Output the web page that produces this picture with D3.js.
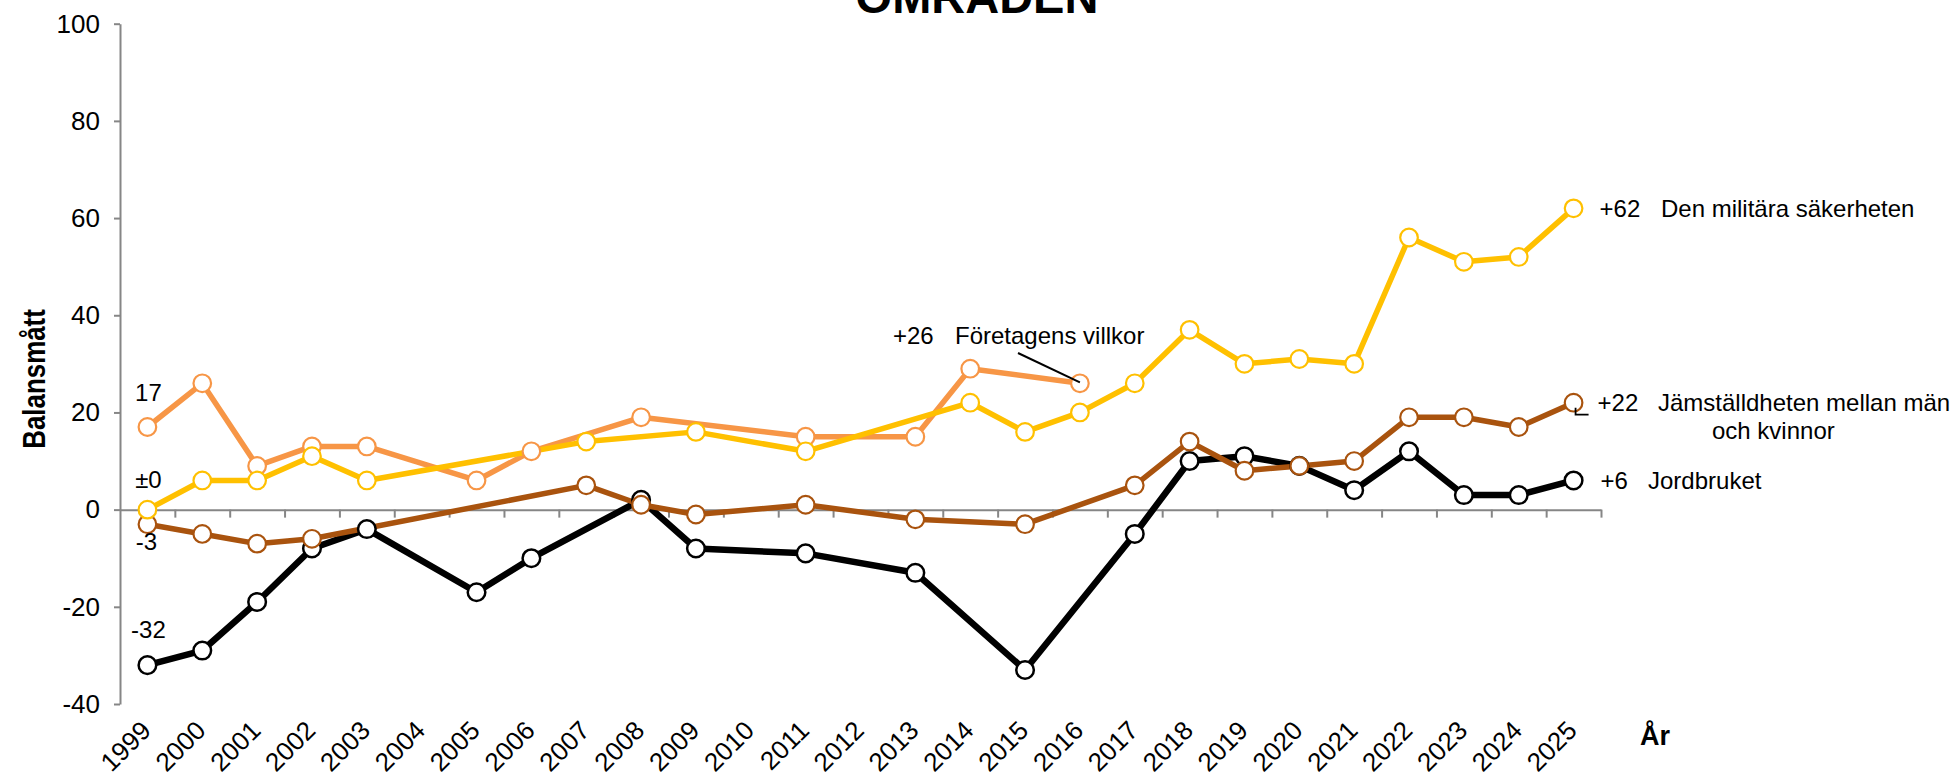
<!DOCTYPE html>
<html>
<head>
<meta charset="utf-8">
<script src="https://cdn.jsdelivr.net/npm/d3@7"></script>
<style>
  body { margin: 0; background: #fff; }
  svg text { font-family: "Liberation Sans", Arial, sans-serif; fill: #000; }
</style>
</head>
<body>
<svg id="chart"></svg>
<script>
// Years on the x axis
const years = ["1999","2000","2001","2002","2003","2004","2005","2006","2007","2008","2009","2010","2011","2012",
  "2013","2014","2015","2016","2017","2018","2019","2020","2021","2022","2023","2024","2025"];

// Balansmått per year, null = not asked that year
const jordbruket = [-32,-29,-19,-8,-4,null,-17,-10,null,2,-8,null,-9,null,-13,null,-33,null,-5,10,11,9,4,12,3,3,6];
const jamstalldhet = [-3,-5,-7,-6,null,null,null,null,5,1,-1,null,1,null,-2,null,-3,null,5,14,8,9,10,19,19,17,22];
const foretagen = [17,26,9,13,13,null,6,12,null,19,null,null,15,null,15,29,null,26,null,null,null,null,null,null,null,null,null];
const militara = [0,6,6,11,6,null,null,null,14,null,16,null,12,null,null,22,16,20,26,37,30,31,30,56,51,52,62];

const yTicks = [-40,-20,0,20,40,60,80,100];

const width = 1954, height = 777;
const svg = d3.select("#chart").attr("width", width).attr("height", height);

// plot box (pixels)
const plotLeft = 120, plotRight = 1601, plotTop = 23.7, plotBottom = 704;

const x = d3.scaleBand().domain(years).range([plotLeft, plotRight]).paddingInner(0).paddingOuter(0);
const xc = d => x(d) + x.bandwidth() / 2;
const xEdge = d3.scaleLinear().domain([0, years.length]).range([plotLeft, plotRight]);
const y = d3.scaleLinear().domain([-40, 100]).range([plotBottom, plotTop]);

const axisGray = "#868686";

// y axis (plain hyphen for negatives, like the original)
const yAxis = svg.append("g")
  .attr("transform", `translate(${plotLeft},0)`)
  .call(d3.axisLeft(y).tickValues(yTicks).tickFormat(d => String(d)).tickSize(6).tickPadding(14).tickSizeOuter(0));
yAxis.select(".domain").attr("stroke", axisGray).attr("stroke-width", 2);
yAxis.selectAll(".tick line").attr("stroke", axisGray).attr("stroke-width", 2);
yAxis.selectAll(".tick text").style("font-size", "26px").attr("fill", "#000");

// x axis along zero, ticks between categories
const xAxis = svg.append("g")
  .attr("transform", `translate(0,${y(0)})`)
  .call(d3.axisBottom(xEdge).tickValues(d3.range(1, years.length + 1)).tickFormat("").tickSize(8).tickSizeOuter(0));
xAxis.select(".domain").attr("stroke", axisGray).attr("stroke-width", 2);
xAxis.selectAll(".tick line").attr("stroke", axisGray).attr("stroke-width", 2);

// x labels at the bottom, rotated
svg.append("g").selectAll("text")
  .data(years)
  .enter().append("text")
  .attr("transform", d => `translate(${xc(d) + 5},732) rotate(-45)`)
  .attr("text-anchor", "end")
  .style("font-size", "26px")
  .text(d => d);

// series, drawn lines first and markers after
const series = [
  { name: "jordbruket", values: jordbruket, color: "#000000", lw: 6.5, mw: 2.5 },
  { name: "jamstalldhet", values: jamstalldhet, color: "#A9530E", lw: 5.5, mw: 2.2 },
  { name: "foretagen", values: foretagen, color: "#F79646", lw: 5.5, mw: 2.2 },
  { name: "militara", values: militara, color: "#FFC000", lw: 5.5, mw: 2.2 }
];

const pts = s => s.values.map((v, i) => ({ year: years[i], v })).filter(p => p.v !== null);
const line = d3.line().x(p => xc(p.year)).y(p => y(p.v));

svg.append("g").selectAll("path")
  .data(series)
  .enter().append("path")
  .attr("d", s => line(pts(s)))
  .attr("fill", "none")
  .attr("stroke", s => s.color)
  .attr("stroke-width", s => s.lw)
  .attr("stroke-linejoin", "round");

series.forEach(s => {
  svg.append("g").selectAll("circle")
    .data(pts(s))
    .enter().append("circle")
    .attr("cx", p => xc(p.year))
    .attr("cy", p => y(p.v))
    .attr("r", 8.8)
    .attr("fill", "#fff")
    .attr("stroke", s.color)
    .attr("stroke-width", s.mw);
});

// annotations
const note = (txt, xx, yy, anchor, size) => svg.append("text")
  .attr("x", xx).attr("y", yy)
  .attr("text-anchor", anchor || "start")
  .style("font-size", (size || 24) + "px")
  .text(txt);

note("17", xc("1999") + 1, 401, "middle");
note("±0", xc("1999") + 1, 488, "middle");
note("-3", xc("1999") - 1, 550, "middle");
note("-32", xc("1999") + 1, 638, "middle");

note("+26", 893, 344);
note("Företagens villkor", 955, 344);
svg.append("line")
  .attr("x1", 1018).attr("y1", 353).attr("x2", xc("2016")).attr("y2", y(26) - 1)
  .attr("stroke", "#000").attr("stroke-width", 2);

note("+62", xc("2025") + 26, y(62) + 9);
note("Den militära säkerheten", 1661, y(62) + 9);

note("+22", xc("2025") + 24, y(22) + 8);
note("Jämställdheten mellan män", 1658, y(22) + 8);
note("och kvinnor", 1712, y(22) + 36);
svg.append("path")
  .attr("d", `M${xc("2025") + 2},${y(22) + 5} V${y(22) + 12} H${xc("2025") + 15}`)
  .attr("fill", "none").attr("stroke", "#000").attr("stroke-width", 1.8);

note("+6", xc("2025") + 27, y(6) + 9);
note("Jordbruket", 1648, y(6) + 9);

// titles (the top line of the title lies outside the picture, as in the original)
svg.append("text")
  .attr("x", 977).attr("y", 13)
  .attr("text-anchor", "middle")
  .style("font-size", "47px").style("font-weight", "bold")
  .text("OMRÅDEN");

// y title is tall and narrow in the original
svg.append("text")
  .attr("transform", "translate(45,379) rotate(-90) scale(0.81,1)")
  .attr("text-anchor", "middle")
  .style("font-size", "32px").style("font-weight", "bold")
  .text("Balansmått");

svg.append("text")
  .attr("x", 1640).attr("y", 745)
  .style("font-size", "27px").style("font-weight", "bold")
  .text("År");
</script>
</body>
</html>
